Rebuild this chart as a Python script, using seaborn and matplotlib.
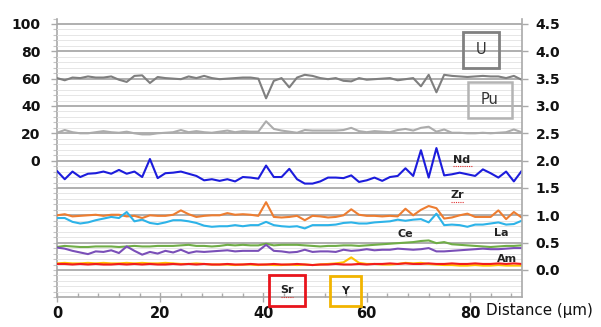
import numpy as np
import pandas as pd
import matplotlib
matplotlib.use("Agg")
import matplotlib.pyplot as plt
from matplotlib.patches import Rectangle
from matplotlib.lines import Line2D
from matplotlib.ticker import MultipleLocator, FixedLocator, FormatStrFormatter
import seaborn as sns

# Line scan positions (µm)
distance = np.arange(0, 90.01, 1.5)

# Relative intensities (right-hand scale)
u_vals = [3.51, 3.47, 3.52, 3.51, 3.54, 3.52, 3.52, 3.54, 3.48, 3.44,
          3.55, 3.56, 3.42, 3.53, 3.51, 3.50, 3.49, 3.54, 3.51, 3.55,
          3.51, 3.49, 3.50, 3.51, 3.52, 3.52, 3.50, 3.14, 3.46, 3.51,
          3.34, 3.52, 3.57, 3.55, 3.51, 3.49, 3.51, 3.46, 3.45, 3.51,
          3.48, 3.49, 3.50, 3.51, 3.47, 3.49, 3.51, 3.36, 3.57, 3.25,
          3.57, 3.55, 3.54, 3.53, 3.54, 3.55, 3.54, 3.54, 3.51, 3.55, 3.48]
pu_vals = [2.51, 2.56, 2.52, 2.50, 2.50, 2.52, 2.54, 2.52, 2.51, 2.53,
           2.50, 2.48, 2.48, 2.50, 2.51, 2.52, 2.56, 2.52, 2.54, 2.52,
           2.51, 2.53, 2.55, 2.52, 2.54, 2.53, 2.53, 2.72, 2.58, 2.55,
           2.53, 2.51, 2.56, 2.55, 2.55, 2.55, 2.55, 2.56, 2.60, 2.54,
           2.52, 2.54, 2.53, 2.52, 2.56, 2.58, 2.55, 2.60, 2.62, 2.53,
           2.57, 2.51, 2.51, 2.50, 2.50, 2.51, 2.50, 2.51, 2.52, 2.57, 2.52]
nd_vals = [1.81, 1.66, 1.80, 1.70, 1.76, 1.77, 1.80, 1.76, 1.83, 1.76,
           1.80, 1.70, 2.03, 1.68, 1.77, 1.78, 1.80, 1.76, 1.72, 1.64,
           1.66, 1.63, 1.66, 1.62, 1.70, 1.69, 1.67, 1.91, 1.70, 1.70,
           1.85, 1.66, 1.58, 1.58, 1.62, 1.69, 1.69, 1.68, 1.73, 1.61,
           1.64, 1.69, 1.63, 1.70, 1.72, 1.86, 1.72, 2.19, 1.69, 2.23,
           1.73, 1.75, 1.78, 1.75, 1.72, 1.84, 1.77, 1.69, 1.80, 1.62, 1.81]
zr_vals = [1.00, 1.02, 0.98, 0.99, 1.00, 1.01, 0.99, 1.01, 1.01, 0.98,
           0.99, 0.95, 1.00, 0.99, 0.99, 1.01, 1.09, 1.02, 0.97, 0.99,
           1.00, 1.00, 1.04, 1.01, 1.02, 1.01, 0.99, 1.24, 0.97, 0.96,
           0.97, 0.99, 0.91, 0.99, 0.98, 0.96, 0.97, 1.00, 1.11, 1.01,
           0.99, 0.99, 0.98, 0.99, 0.98, 1.12, 1.00, 1.10, 1.17, 1.13,
           0.94, 0.96, 1.00, 1.03, 0.97, 0.97, 0.97, 1.09, 0.93, 1.06, 0.96]
la_vals = [0.95, 0.95, 0.88, 0.85, 0.87, 0.91, 0.94, 0.97, 0.95, 1.06,
           0.89, 0.92, 0.86, 0.84, 0.87, 0.91, 0.91, 0.89, 0.86, 0.81,
           0.79, 0.80, 0.80, 0.82, 0.80, 0.82, 0.82, 0.88, 0.82, 0.80,
           0.79, 0.80, 0.76, 0.82, 0.82, 0.82, 0.83, 0.86, 0.87, 0.85,
           0.85, 0.87, 0.88, 0.89, 0.92, 0.90, 0.92, 0.93, 0.87, 1.03,
           0.82, 0.83, 0.82, 0.79, 0.83, 0.83, 0.85, 0.87, 0.83, 0.84, 0.90]
ce_vals = [0.42, 0.44, 0.43, 0.42, 0.42, 0.43, 0.43, 0.43, 0.42, 0.43,
           0.44, 0.43, 0.43, 0.44, 0.44, 0.44, 0.45, 0.46, 0.44, 0.44,
           0.43, 0.44, 0.46, 0.45, 0.46, 0.45, 0.45, 0.48, 0.45, 0.46,
           0.46, 0.46, 0.45, 0.44, 0.43, 0.44, 0.44, 0.45, 0.45, 0.44,
           0.45, 0.46, 0.47, 0.48, 0.49, 0.50, 0.51, 0.53, 0.54, 0.49,
           0.51, 0.47, 0.46, 0.45, 0.44, 0.43, 0.42, 0.43, 0.44, 0.44, 0.45]
am_vals = [0.41, 0.39, 0.35, 0.32, 0.29, 0.34, 0.33, 0.36, 0.31, 0.43,
           0.35, 0.28, 0.33, 0.30, 0.35, 0.32, 0.37, 0.31, 0.34, 0.33,
           0.34, 0.35, 0.36, 0.34, 0.35, 0.35, 0.35, 0.46, 0.35, 0.34,
           0.32, 0.33, 0.37, 0.33, 0.34, 0.34, 0.33, 0.37, 0.35, 0.36,
           0.38, 0.36, 0.37, 0.37, 0.39, 0.38, 0.37, 0.38, 0.40, 0.34,
           0.34, 0.35, 0.36, 0.37, 0.38, 0.39, 0.38, 0.38, 0.39, 0.40, 0.40]
y_vals = [0.12, 0.13, 0.12, 0.12, 0.13, 0.12, 0.13, 0.12, 0.12, 0.13,
          0.12, 0.13, 0.12, 0.12, 0.13, 0.12, 0.11, 0.11, 0.12, 0.11,
          0.10, 0.10, 0.10, 0.09, 0.10, 0.10, 0.09, 0.10, 0.09, 0.09,
          0.10, 0.09, 0.10, 0.09, 0.10, 0.11, 0.12, 0.14, 0.23, 0.13,
          0.11, 0.11, 0.10, 0.10, 0.11, 0.13, 0.12, 0.13, 0.11, 0.10,
          0.09, 0.09, 0.08, 0.08, 0.09, 0.08, 0.08, 0.09, 0.08, 0.08, 0.08]
sr_vals = [0.11, 0.11, 0.10, 0.11, 0.10, 0.11, 0.10, 0.10, 0.11, 0.10,
           0.11, 0.10, 0.11, 0.10, 0.10, 0.11, 0.10, 0.11, 0.10, 0.11,
           0.10, 0.10, 0.11, 0.10, 0.10, 0.11, 0.10, 0.10, 0.11, 0.10,
           0.10, 0.11, 0.10, 0.09, 0.10, 0.10, 0.11, 0.10, 0.10, 0.11,
           0.10, 0.11, 0.11, 0.12, 0.11, 0.12, 0.11, 0.11, 0.12, 0.11,
           0.11, 0.12, 0.11, 0.11, 0.12, 0.11, 0.11, 0.12, 0.11, 0.12, 0.11]

elements = ["U", "Pu", "Nd", "Zr", "La", "Ce", "Am", "Y", "Sr"]
series = [u_vals, pu_vals, nd_vals, zr_vals, la_vals, ce_vals, am_vals, y_vals, sr_vals]
colors = ["#7f7f7f", "#acacac", "#1c1cdc", "#ed7d31", "#2db3e8",
          "#70ad47", "#7a4fb8", "#ffc000", "#f21c1c"]

left_ticks = [0, 20, 40, 60, 80, 100]
right_ticks = [0.0, 0.5, 1.0, 1.5, 2.0, 2.5, 3.0, 3.5, 4.0, 4.5]
x_ticks = [0, 20, 40, 60, 80]

df = pd.concat(
    [pd.DataFrame({"distance": distance, "value": vals, "element": name})
     for name, vals in zip(elements, series)],
    ignore_index=True,
)

sns.set_theme(style="white")
plt.rcParams["font.family"] = ["DejaVu Sans"]

W, H = 601, 327
fig = plt.figure(figsize=(W / 100, H / 100), dpi=100)
ax = fig.add_axes([57 / W, 1 - 297.3 / H, 464.6 / W, (297.3 - 18.5) / H])

sns.lineplot(data=df, x="distance", y="value", hue="element",
             hue_order=elements, palette=dict(zip(elements, colors)),
             linewidth=1.5, legend=False, sort=False, estimator=None, ax=ax)

ax.set_xlim(0, 90)
ax.set_ylim(-0.5, 4.6)
ax.set_xlabel("")
ax.set_ylabel("")

# horizontal grid: strong every 0.5, faint every 0.1
ax.yaxis.set_major_locator(FixedLocator(right_ticks))
ax.yaxis.set_major_formatter(FormatStrFormatter("%.1f"))
ax.yaxis.set_minor_locator(MultipleLocator(0.1))
ax.set_axisbelow(True)
ax.grid(which="major", axis="y", color="#a9a9a9", linewidth=1.3)
ax.grid(which="minor", axis="y", color="#e6e6e6", linewidth=0.7)
ax.grid(which="both", axis="x", visible=False)

ax.yaxis.tick_right()
ax.tick_params(axis="y", which="major", right=True, left=False, direction="out",
               length=4, width=1, color="#a9a9a9", pad=6, labelsize=10,
               labelcolor="#111111")
ax.tick_params(axis="y", which="minor", right=False, left=False, length=0)
for lbl in ax.get_yticklabels():
    lbl.set_fontweight("bold")

ax.xaxis.set_major_locator(FixedLocator(x_ticks))
ax.xaxis.set_minor_locator(MultipleLocator(4))
ax.tick_params(axis="x", which="major", bottom=True, direction="inout",
               length=7, width=1, color="#a9a9a9", pad=3, labelsize=10.5,
               labelcolor="#111111")
ax.tick_params(axis="x", which="minor", bottom=True, direction="in",
               length=3, width=1, color="#a9a9a9")
for lbl in ax.get_xticklabels():
    lbl.set_fontweight("bold")

for side in ["top", "left"]:
    ax.spines[side].set_visible(False)
for side in ["right", "bottom"]:
    ax.spines[side].set_color("#a9a9a9")
    ax.spines[side].set_linewidth(1.2)

# left-hand scale for the actinides
sec = ax.secondary_yaxis("left", functions=(lambda v: 40 * (v - 2),
                                            lambda s: s / 40 + 2))
sec.yaxis.set_major_locator(FixedLocator(left_ticks))
sec.yaxis.set_minor_locator(MultipleLocator(4))
sec.tick_params(which="major", direction="out", length=4, width=1,
                color="#a9a9a9", pad=8, labelsize=10, labelcolor="#111111")
sec.tick_params(which="minor", direction="out", length=3, width=0.8,
                color="#c4c4c4")
sec.spines["left"].set_color("#a9a9a9")
sec.spines["left"].set_linewidth(1.2)
for lbl in sec.get_yticklabels():
    lbl.set_fontweight("bold")

fig.text(486 / W, 1 - 310 / H, "Distance (µm)", ha="left", va="center",
         fontsize=10.9, color="#111111")


def fx(px):
    return px / W


def fy(py):
    return 1 - py / H


def box(x0, y0, x1, y1, color, lw):
    fig.add_artist(Rectangle((fx(x0), fy(y1)), fx(x1) - fx(x0), fy(y0) - fy(y1),
                             transform=fig.transFigure, fill=False,
                             edgecolor=color, linewidth=lw))


def squiggle(x0, x1, y):
    fig.add_artist(Line2D([fx(x0), fx(x1)], [fy(y), fy(y)],
                          transform=fig.transFigure, color="#e03030",
                          linewidth=0.8, linestyle=(0, (1, 1))))


# element tags
box(463, 32, 499, 68, "#808080", 2.0)
fig.text(fx(481), fy(50), "U", ha="center", va="center", fontsize=10.5,
         color="#333333")
box(468, 82, 512, 118, "#b4b4b4", 1.8)
fig.text(fx(490), fy(100), "Pu", ha="center", va="center", fontsize=10.5,
         color="#333333")
box(269, 275, 305, 306, "#e8141c", 2.0)
fig.text(fx(287), fy(290), "Sr", ha="center", va="center", fontsize=8,
         fontweight="bold", color="#222222")
squiggle(281, 293, 297)
box(330, 276, 361, 306, "#f2b400", 2.0)
fig.text(fx(345.5), fy(291), "Y", ha="center", va="center", fontsize=8,
         fontweight="bold", color="#222222")

for name, px, py in [("Nd", 462, 160), ("Zr", 457, 195), ("Ce", 405, 234),
                     ("La", 501, 233), ("Am", 507, 259)]:
    fig.text(fx(px), fy(py), name, ha="center", va="center", fontsize=8,
             fontweight="bold", color="#222222")
squiggle(453, 472, 166)
squiggle(451, 464, 202)

fig.savefig("out.png", dpi=100)
